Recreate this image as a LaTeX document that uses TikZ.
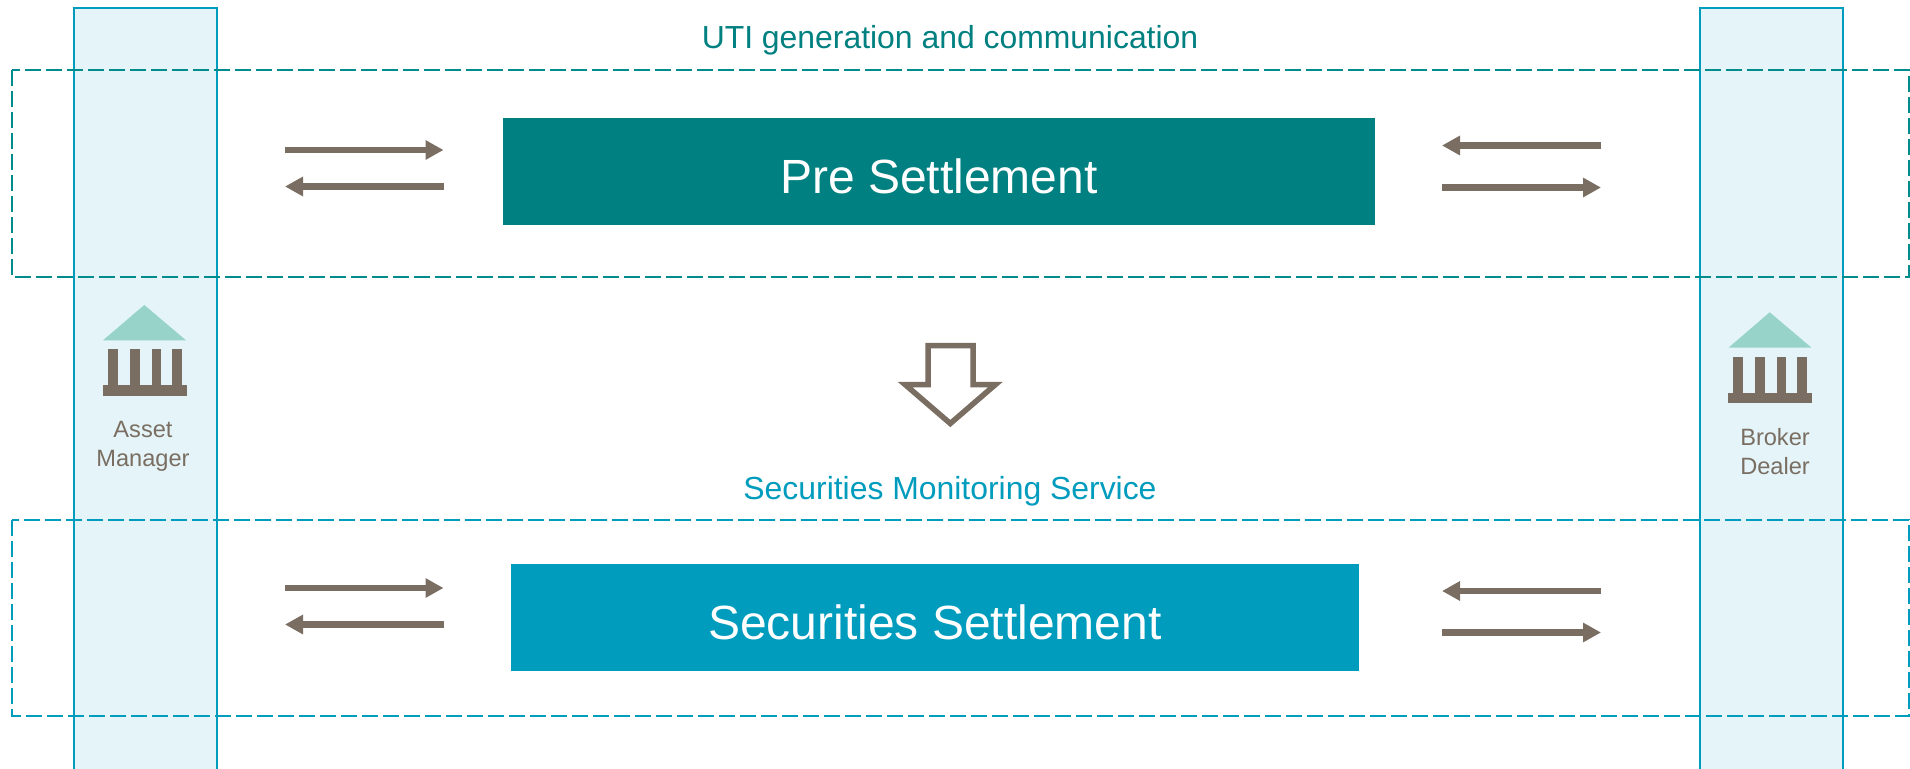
\documentclass[tikz,border=0pt]{standalone}
\usepackage{fontspec}
\setmainfont{Liberation Sans}
\usetikzlibrary{arrows.meta}
\definecolor{tealc}{HTML}{008080}
\definecolor{tealdash}{HTML}{008C8C}
\definecolor{bluec}{HTML}{009CBD}
\definecolor{bandfill}{HTML}{E4F4F8}
\definecolor{brownc}{HTML}{7A6E62}
\definecolor{roofc}{HTML}{97D3C9}
\tikzset{
  band/.style={draw=bluec,fill=bandfill,line width=2pt},
  dashbox/.style={line width=2.2pt,dash pattern=on 16pt off 5pt},
  flow/.style={draw=brownc,line width=6.5pt,-{Triangle[length=18pt,width=18.5pt]}},
  procbox/.style={rectangle,inner sep=0pt},
  proctext/.style={text=white,inner sep=0pt,font=\fontsize{48}{56}\selectfont},
  heading/.style={inner sep=0pt,font=\fontsize{31.9}{38}\selectfont},
  actor/.style={inner sep=0pt,align=center,text=brownc,font=\fontsize{23.6}{29}\selectfont},
  roof/.style={fill=roofc},
  pillar/.style={fill=brownc}
}
\begin{document}
\begin{tikzpicture}[x=1pt,y=-1pt]
\useasboundingbox (0,0) rectangle (1910,768);
\fill[white] (0,0) rectangle (1910,768);
\begin{scope}
\clip (0,0) rectangle (1910,768);
% bands
\draw[band] (73.5,8) rectangle (216.5,790);
\draw[band] (1699.5,8) rectangle (1842.5,790);
% dashed frames
\draw[dashbox,draw=tealdash] (12,70) rectangle (1909,277);
\draw[dashbox,draw=bluec] (12,520) rectangle (1909,716);
\end{scope}
% process boxes
\node[procbox,fill=tealc,minimum width=872pt,minimum height=107pt] (pre) at (939,171.5) {};
\node[proctext] (pretxt) at (939,176) {Pre Settlement};
\node[procbox,fill=bluec,minimum width=848pt,minimum height=107pt] (sec) at (935,617.5) {};
\node[proctext] (sectxt) at (935,622) {Securities Settlement};
% headings
\node[heading,text=tealc] (uti) at (950,40) {UTI generation and communication};
\node[heading,text=bluec] (sms) at (950,491.5) {Securities Monitoring Service};
% flow arrows
\coordinate (a1) at (285,150); \coordinate (a2) at (443.5,150);
\coordinate (b1) at (285,186.5); \coordinate (b2) at (444,186.5);
\coordinate (c1) at (1442,145.5); \coordinate (c2) at (1601,145.5);
\coordinate (d1) at (1442,187.5); \coordinate (d2) at (1601,187.5);
\coordinate (e1) at (285,588); \coordinate (e2) at (443.5,588);
\coordinate (f1) at (285,624.5); \coordinate (f2) at (444,624.5);
\coordinate (g1) at (1442,591); \coordinate (g2) at (1601,591);
\coordinate (h1) at (1442,632.5); \coordinate (h2) at (1601,632.5);
\draw[flow] (a1) -- (a2);
\draw[flow] (b2) -- (b1);
\draw[flow] (c2) -- (c1);
\draw[flow] (d1) -- (d2);
\draw[flow] (e1) -- (e2);
\draw[flow] (f2) -- (f1);
\draw[flow] (g2) -- (g1);
\draw[flow] (h1) -- (h2);
% block arrow
\draw[brownc,fill=white,line width=5.5pt,miter limit=10]
  (928,345.5) -- (973,345.5) -- (973,384.5) -- (995.5,384.5) -- (950.3,423.5) -- (905,384.5) -- (928,384.5) -- cycle;
% left building
\fill[roof] (144.3,305) -- (186,340.3) -- (103,340.3) -- cycle;
\fill[pillar] (108,349) rectangle (117.7,386);
\fill[pillar] (129.5,349) rectangle (139.5,386);
\fill[pillar] (151.5,349) rectangle (160.5,386);
\fill[pillar] (172,349) rectangle (182,386);
\fill[pillar] (103,385) rectangle (187,395.5);
\node[actor] (am) at (143,446) {Asset\\Manager};
% right building
\fill[roof] (1769.7,312.3) -- (1811.5,347.7) -- (1728.5,347.7) -- cycle;
\fill[pillar] (1733,356.5) rectangle (1743,394);
\fill[pillar] (1755,356.5) rectangle (1765,394);
\fill[pillar] (1776.5,356.5) rectangle (1785.5,394);
\fill[pillar] (1797,356.5) rectangle (1807,394);
\fill[pillar] (1728,393) rectangle (1812,403);
\node[actor] (bd) at (1775,451.5) {Broker\\Dealer};
\end{tikzpicture}
\end{document}
